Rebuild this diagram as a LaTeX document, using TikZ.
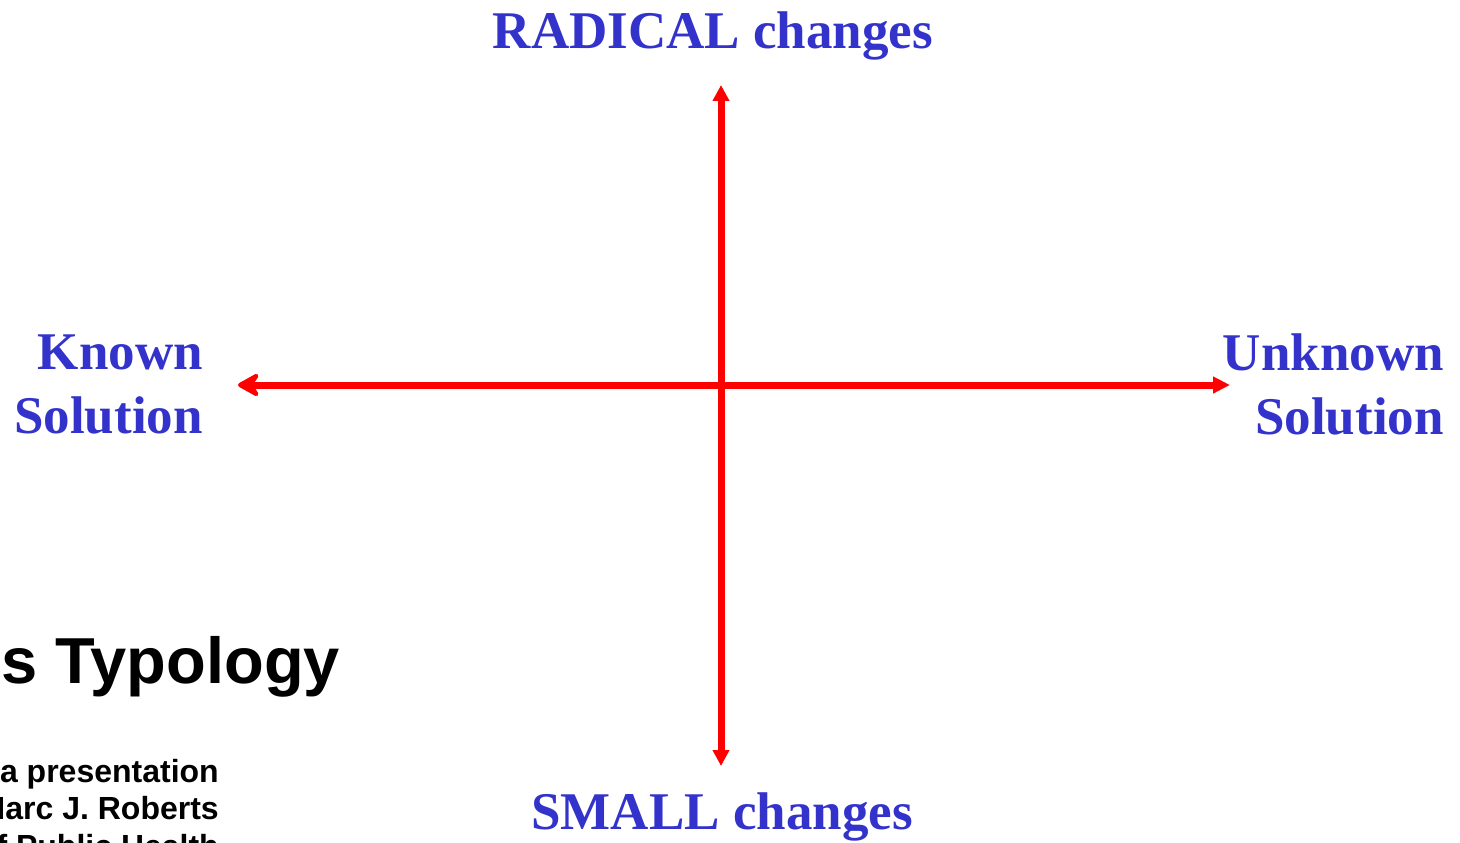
\documentclass[tikz,border=0pt]{standalone}
\usepackage{fontspec}
\usepackage{xcolor}
\usepackage{tikz}
\usetikzlibrary{arrows.meta}
\setmainfont{Liberation Serif}
\setsansfont{Liberation Sans}
\definecolor{axisred}{HTML}{FF0000}
\definecolor{labelblue}{HTML}{3333CC}
\tikzset{
  axislabel/.style={text=labelblue, inner sep=0pt, font=\bfseries\fontsize{53}{64}\selectfont},
  axisline/.style={draw=axisred, line width=7pt}
}
\begin{document}
\begin{tikzpicture}[x=1pt, y=-1pt]
  \useasboundingbox (0,0) rectangle (1460,843);
  \coordinate (west) at (238,385);
  \coordinate (east) at (1230,385);
  \coordinate (north) at (721,85);
  \coordinate (south) at (721,766);
  \draw[axisline, {Stealth[round,length=27pt,width=30pt,inset=10pt]}-{Triangle[length=17pt,width=16pt]}] (west) -- (east);
  \draw[axisline, {Triangle[length=16pt,width=16pt]}-{Triangle[length=16pt,width=16pt]}] (south) -- (north);
  \node[axislabel, anchor=base] (radical) at (713,49) {RADICAL changes};
  \node[axislabel, anchor=base] (small) at (722,829) {SMALL changes};
  \node[axislabel, anchor=east, align=right] (known) at (203,384) {Known\\Solution};
  \node[axislabel, anchor=east, align=right] (unknown) at (1444,384) {Unknown\\Solution};
  \node[inner sep=0pt, anchor=base east, font=\sffamily\bfseries\fontsize{65}{78}\selectfont] (title) at (340,683) {s Typology};
  \node[inner sep=0pt, anchor=base east, align=right, font=\sffamily\bfseries\fontsize{32}{37.5}\selectfont] (credit) at (219,857) {a presentation\\Marc J. Roberts\\of Public Health};
\end{tikzpicture}
\end{document}
